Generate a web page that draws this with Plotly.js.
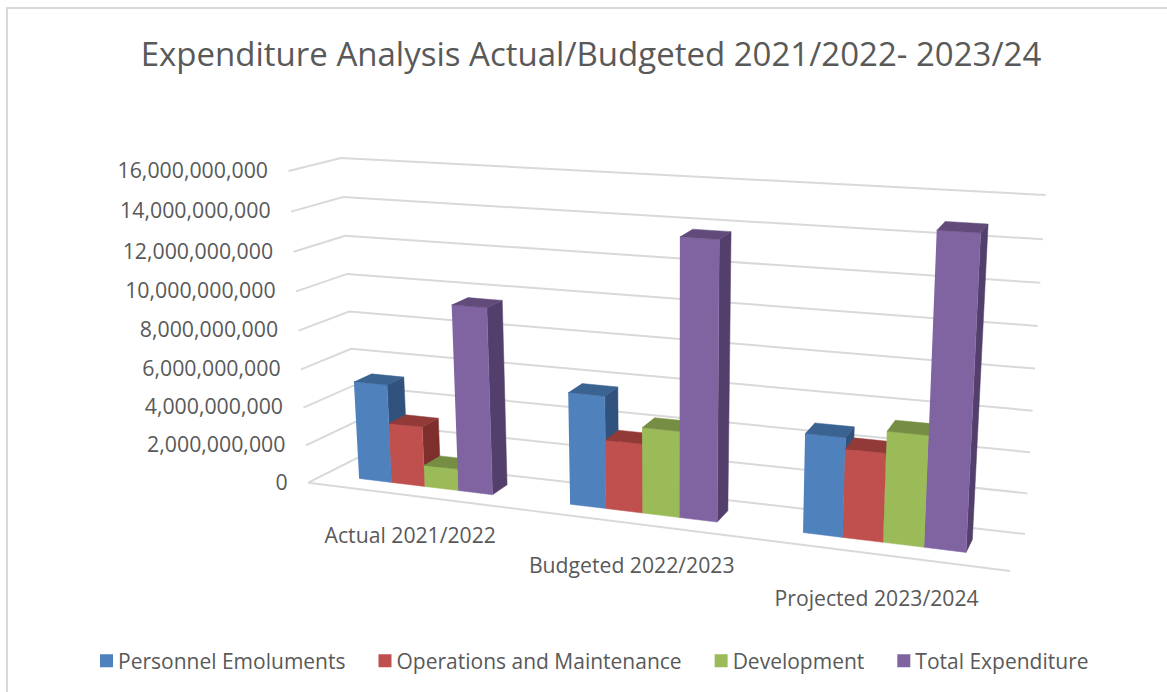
<!DOCTYPE html>
<html>
<head>
<meta charset="utf-8">
<script src="https://cdn.plot.ly/plotly-3.0.1.min.js"></script>
<style>html,body{margin:0;padding:0;background:#fff}#chart{width:1167px;height:692px}</style>
</head>
<body>
<div id="chart"></div>
<script>
// Yearly figures, in shillings
const categories = ['Actual 2021/2022', 'Budgeted 2022/2023', 'Projected 2023/2024'];
const personnelEmoluments = [5170000000, 5730000000, 4890000000];
const operationsMaintenance = [3160000000, 3520000000, 4350000000];
const development = [1140000000, 4350000000, 5410000000];
const totalExpenditure = [9610000000, 13800000000, 14900000000];
const valueTicks = [0, 2e9, 4e9, 6e9, 8e9, 1e10, 1.2e10, 1.4e10, 1.6e10];
const valueMax = 1.6e10;

const seriesList = [
  {name: 'Personnel Emoluments', values: personnelEmoluments, front: '#4F81BD', side: '#31527C', top: '#3A6391'},
  {name: 'Operations and Maintenance', values: operationsMaintenance, front: '#C0504D', side: '#7E2F2D', top: '#923A38'},
  {name: 'Development', values: development, front: '#9BBB59', side: '#657D37', top: '#758E43'},
  {name: 'Total Expenditure', values: totalExpenditure, front: '#8064A2', side: '#533F6B', top: '#604B7A'}
];

// Eight corners of the plot box on the page: front/back, left/right, bottom/top
const box = {
  flb: [308.3, 482.7], frb: [1010, 571], blb: [357, 458], brb: [1025, 534],
  flt: [288.5, 171], frt: [1027, 220], blt: [341, 158], brt: [1045.7, 195]
};
const foreshortenU = 0.86, foreshortenV = 0.953;
const foreshorten = (a, r) => a * r / (1 + a * (r - 1));
const mix = (p, q, a) => [p[0] + (q[0] - p[0]) * a, p[1] + (q[1] - p[1]) * a];

// u: along the categories, d: into the depth, value: up the value scale
function project(u, d, value) {
  const t = foreshorten(u, foreshortenU);
  const h = foreshorten(value / valueMax, foreshortenV);
  const bottom = mix(mix(box.flb, box.frb, t), mix(box.blb, box.brb, t), d);
  const top = mix(mix(box.flt, box.frt, t), mix(box.blt, box.brt, t), d);
  return mix(bottom, top, h);
}

// Each category holds four bars plus a gap of about two bar widths
const unitsPerCategory = 6;
const totalUnits = categories.length * unitsPerCategory;
const barWidth = 0.965, groupInset = 1.03;
const depthFront = 0.34, depthBack = 0.70;

function polygons(cornersOf) {
  const x = [], y = [];
  categories.forEach((c, i) => {
    cornersOf(i).forEach(p => { x.push(p[0]); y.push(p[1]); });
    x.push(null); y.push(null);
  });
  return {x, y};
}

function face(xy, color) {
  return {type: 'scatter', mode: 'lines', x: xy.x, y: xy.y, fill: 'toself', fillcolor: color,
    line: {color: color, width: 0.5}, hoverinfo: 'skip', showlegend: false};
}

const traces = [];

// Gridlines on the side and back walls, then the front edge of the floor
const gridX = [], gridY = [];
valueTicks.forEach(v => {
  [project(0, 0, v), project(0, 1, v), project(1, 1, v)].forEach(p => { gridX.push(p[0]); gridY.push(p[1]); });
  gridX.push(null); gridY.push(null);
});
[project(0, 0, 0), project(1, 0, 0)].forEach(p => { gridX.push(p[0]); gridY.push(p[1]); });
traces.push({type: 'scatter', mode: 'lines', x: gridX, y: gridY, connectgaps: false,
  line: {color: '#D9D9D9', width: 2}, hoverinfo: 'skip', showlegend: false});

// Bars, painted left to right so nearer faces cover their neighbours
seriesList.forEach((s, k) => {
  const left = i => (i * unitsPerCategory + groupInset + k * barWidth) / totalUnits;
  const right = i => (i * unitsPerCategory + groupInset + (k + 1) * barWidth) / totalUnits;
  traces.push(face(polygons(i => [
    project(right(i), depthFront, 0), project(right(i), depthBack, 0),
    project(right(i), depthBack, s.values[i]), project(right(i), depthFront, s.values[i])
  ]), s.side));
  traces.push(face(polygons(i => [
    project(left(i), depthFront, 0), project(right(i), depthFront, 0),
    project(right(i), depthFront, s.values[i]), project(left(i), depthFront, s.values[i])
  ]), s.front));
  traces.push(face(polygons(i => [
    project(left(i), depthFront, s.values[i]), project(right(i), depthFront, s.values[i]),
    project(right(i), depthBack, s.values[i]), project(left(i), depthBack, s.values[i])
  ]), s.top));
});

// Value labels follow the slanted front edge of the side wall
const tickPoints = valueTicks.map(v => project(0, 0, v));
traces.push({type: 'scatter', mode: 'text', x: tickPoints.map(p => p[0] - 20.5), y: tickPoints.map(p => p[1] + 1.5),
  text: valueTicks.map(v => v.toLocaleString('en-US')), textposition: 'middle left',
  textfont: {family: 'Open Sans', size: 21.3, color: '#595959'}, hoverinfo: 'skip', showlegend: false});

// Category labels sit below the floor's front edge
const categoryPoints = categories.map((c, i) => project((i + 0.5) / categories.length, 0, 0));
traces.push({type: 'scatter', mode: 'text', x: categoryPoints.map(p => p[0] - 1), y: categoryPoints.map((p, i) => p[1] + 42 + 2 * i),
  text: categories, textposition: 'middle center',
  textfont: {family: 'Open Sans', size: 21.2, color: '#595959'}, hoverinfo: 'skip', showlegend: false});

// Legend keys
seriesList.forEach(s => {
  traces.push({type: 'scatter', mode: 'markers', name: s.name, x: [null], y: [null],
    marker: {symbol: 'square', size: 13, color: s.front}, hoverinfo: 'skip'});
});

const layout = {
  width: 1167, height: 692,
  margin: {l: 0, r: 0, t: 0, b: 0},
  paper_bgcolor: '#FFFFFF', plot_bgcolor: '#FFFFFF',
  title: {text: 'Expenditure Analysis Actual/Budgeted 2021/2022- 2023/24',
    font: {family: 'Open Sans', size: 33, color: '#595959'},
    x: 591 / 1167, xanchor: 'center', xref: 'paper', y: 1 - 54 / 692, yanchor: 'middle'},
  xaxis: {range: [0, 1167], visible: false, fixedrange: true},
  yaxis: {range: [692, 0], visible: false, fixedrange: true},
  showlegend: true,
  legend: {orientation: 'h', x: 72 / 1167, xanchor: 'left', y: 1 - 661 / 692, yanchor: 'middle', itemwidth: 36,
    font: {family: 'Open Sans', size: 21, color: '#595959'}, bgcolor: 'rgba(0,0,0,0)', traceorder: 'normal'},
  shapes: [{type: 'rect', xref: 'x', yref: 'y', x0: 7, x1: 1200, y0: 8, y1: 720,
    line: {color: '#D9D9D9', width: 2}, layer: 'below'}]
};

Plotly.newPlot('chart', traces, layout, {displayModeBar: false, staticPlot: true}).then(() => {
  // Keep each legend swatch close to its label
  document.querySelectorAll('#chart .legend .legendsymbols').forEach(g => {
    g.setAttribute('transform', 'translate(11.5,0)');
  });
});
</script>
</body>
</html>
